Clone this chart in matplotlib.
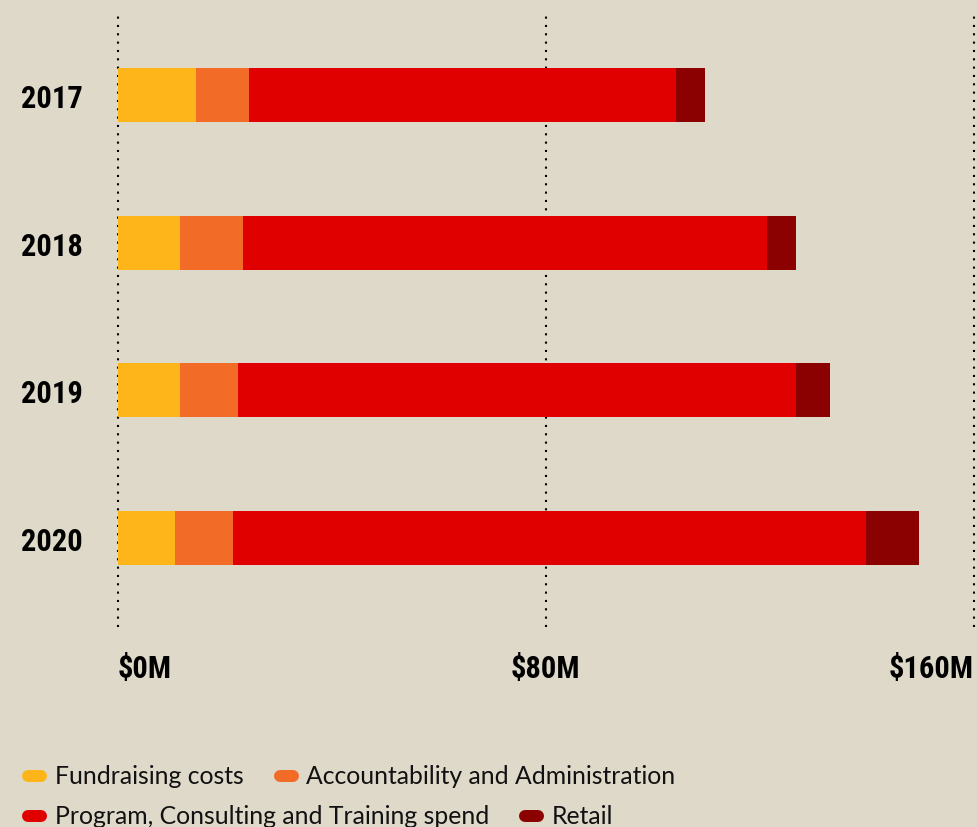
import matplotlib
matplotlib.use("Agg")
import matplotlib.pyplot as plt
from matplotlib.lines import Line2D
import numpy as np

years = ["2017", "2018", "2019", "2020"]
fundraising = [14.7, 11.7, 11.7, 10.7]
accountability = [9.9, 11.8, 10.8, 10.8]
program = [79.8, 97.9, 104.3, 118.3]
retail = [5.4, 5.4, 6.4, 9.9]
series_names = ["Fundraising costs", "Accountability and Administration",
                "Program, Consulting and Training spend", "Retail"]
series_colors = ["#FDB519", "#F26B27", "#E00000", "#8B0000"]
xticks = [0, 80, 160]
xtick_labels = ["$0M", "$80M", "$160M"]

BG = "#DFD9CA"
W, H = 977, 828
fig = plt.figure(figsize=(W / 100, H / 100), dpi=100, facecolor=BG)
ax = fig.add_axes([117.5 / W, 1 - 628 / H, (973.7 - 117.5) / W, (628 - 15) / H])
ax.set_facecolor(BG)

ypos = np.arange(len(years))
left = np.zeros(len(years))
for vals, name, col in zip([fundraising, accountability, program, retail], series_names, series_colors):
    ax.barh(ypos, vals, left=left, height=0.366, color=col, zorder=2, linewidth=0)
    left += np.array(vals)

ax.set_xlim(0, 160)
ax.set_ylim(3.603, -0.548)

for xv in xticks:
    ax.axvline(xv, color="black", linestyle=(0, (1, 3)), linewidth=1.5, zorder=1, clip_on=False)

for s in ax.spines.values():
    s.set_visible(False)

cond = ["Roboto Condensed", "Open Sans Condensed", "Liberation Sans Narrow", "DejaVu Sans"]
ax.set_xticks(xticks)
ax.set_xticklabels(xtick_labels, fontsize=22, fontweight="bold", family=cond, fontstretch="condensed")
ax.tick_params(axis="x", length=0, pad=19)
xl = ax.get_xticklabels()
xl[0].set_ha("left")
xl[-1].set_ha("right")

ax.set_yticks(ypos)
ax.set_yticklabels(years, fontsize=22, fontweight="bold", family=cond, fontstretch="condensed")
ax.tick_params(axis="y", length=0, pad=(117.5 - 21) * 0.72)
for t in ax.get_yticklabels():
    t.set_ha("left")

def handle(c):
    return Line2D([0, 1], [0, 0], color=c, linewidth=12 * 0.72, solid_capstyle="round")

legfont = {"family": "Lato", "size": 17.8}
rows = [([0, 1], 777), ([2, 3], 817)]
for idx, ypix in rows:
    leg = fig.legend([handle(series_colors[i]) for i in idx], [series_names[i] for i in idx],
                     loc="center left", bbox_to_anchor=(28 / W, 1 - ypix / H), ncol=2,
                     frameon=False, borderpad=0, borderaxespad=0, prop=legfont,
                     handlelength=0.54, handletextpad=0.54, columnspacing=1.46, handleheight=0.5)
    for t in leg.get_texts():
        t.set_color("#111111")

fig.savefig("out.png", dpi=100, facecolor=BG)
